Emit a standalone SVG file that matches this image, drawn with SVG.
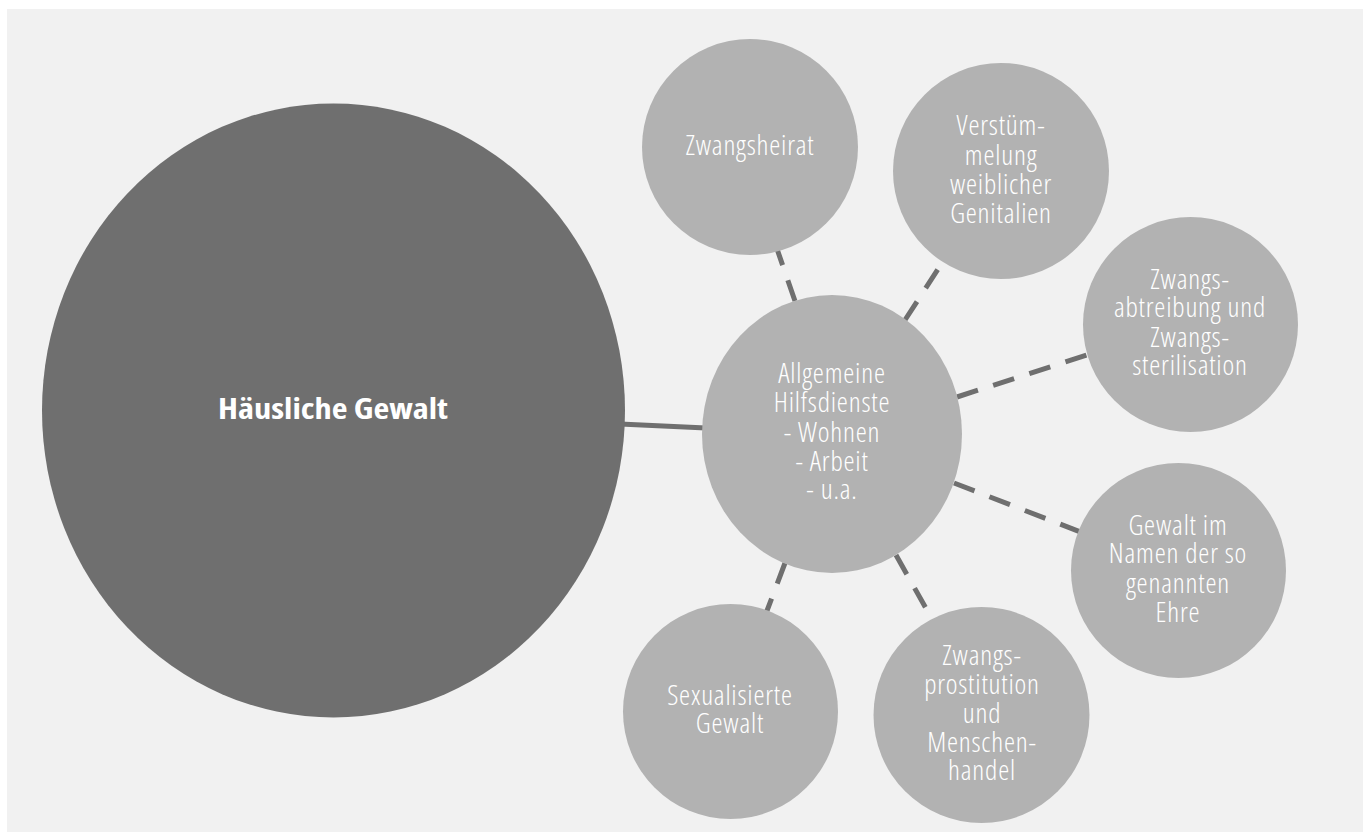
<svg xmlns="http://www.w3.org/2000/svg" width="1363" height="832" viewBox="0 0 1363 832">
<style>
.bg{fill:#f1f1f1}
.big{fill:#6f6f6f}
.node{fill:#b2b2b2}
.con{stroke:#6f6f6f;stroke-width:5;fill:none}
.dash{stroke-dasharray:22 16}
.lbl{font-family:"Open Sans","Liberation Sans",sans-serif;font-weight:300;font-stretch:75%;font-size:28px;letter-spacing:0.8px;fill:#ffffff;text-anchor:middle}
.bold{font-family:"Open Sans","Liberation Sans",sans-serif;font-weight:700;font-stretch:87.5%;font-size:29px;fill:#ffffff;text-anchor:middle}
</style>
<rect width="1363" height="832" fill="#ffffff"/>
<rect class="bg" x="7" y="9" width="1356" height="823"/>
<g id="connectors">
<line class="con" x1="620" y1="424" x2="706" y2="428"/>
<line class="con dash" x1="795" y1="301" x2="776" y2="246"/>
<line class="con dash" x1="905" y1="320" x2="942" y2="263"/>
<line class="con dash" x1="957" y1="397" x2="1090" y2="354"/>
<line class="con dash" x1="954" y1="483" x2="1083" y2="533"/>
<line class="con dash" x1="896" y1="555" x2="928" y2="612"/>
<line class="con dash" x1="785" y1="563" x2="765" y2="616"/>
</g>
<g id="haeusliche-gewalt">
<ellipse class="big" cx="333.5" cy="410.5" rx="291.5" ry="307"/>
<text class="bold" x="333" y="419" textLength="230" lengthAdjust="spacingAndGlyphs">Häusliche Gewalt</text>
</g>
<g id="allgemeine-hilfsdienste">
<ellipse class="node" cx="832" cy="434" rx="130" ry="139"/>
<text class="lbl" x="832" y="383">Allgemeine</text>
<text class="lbl" x="832" y="412">Hilfsdienste</text>
<text class="lbl" x="832" y="442">- Wohnen</text>
<text class="lbl" x="832" y="471">- Arbeit</text>
<text class="lbl" x="832" y="499">- u.a.</text>
</g>
<g id="zwangsheirat">
<circle class="node" cx="750" cy="147" r="108"/>
<text class="lbl" x="750" y="155">Zwangsheirat</text>
</g>
<g id="verstuemmelung">
<circle class="node" cx="1001" cy="171" r="108"/>
<text class="lbl" x="1001" y="135">Verstüm-</text>
<text class="lbl" x="1001" y="165">melung</text>
<text class="lbl" x="1001" y="194">weiblicher</text>
<text class="lbl" x="1001" y="223">Genitalien</text>
</g>
<g id="zwangsabtreibung">
<circle class="node" cx="1190.5" cy="324.5" r="107.5"/>
<text class="lbl" x="1190" y="289">Zwangs-</text>
<text class="lbl" x="1190" y="317">abtreibung und</text>
<text class="lbl" x="1190" y="347">Zwangs-</text>
<text class="lbl" x="1190" y="375">sterilisation</text>
</g>
<g id="gewalt-ehre">
<circle class="node" cx="1178.5" cy="570.5" r="107.5"/>
<text class="lbl" x="1178" y="535">Gewalt im</text>
<text class="lbl" x="1178" y="563">Namen der so</text>
<text class="lbl" x="1178" y="593">genannten</text>
<text class="lbl" x="1178" y="622">Ehre</text>
</g>
<g id="zwangsprostitution">
<circle class="node" cx="981.5" cy="715" r="108"/>
<text class="lbl" x="982" y="665">Zwangs-</text>
<text class="lbl" x="982" y="694">prostitution</text>
<text class="lbl" x="982" y="723">und</text>
<text class="lbl" x="982" y="752">Menschen-</text>
<text class="lbl" x="982" y="780">handel</text>
</g>
<g id="sexualisierte-gewalt">
<circle class="node" cx="730.5" cy="711.5" r="107.5"/>
<text class="lbl" x="730" y="705">Sexualisierte</text>
<text class="lbl" x="730" y="733">Gewalt</text>
</g>
</svg>
